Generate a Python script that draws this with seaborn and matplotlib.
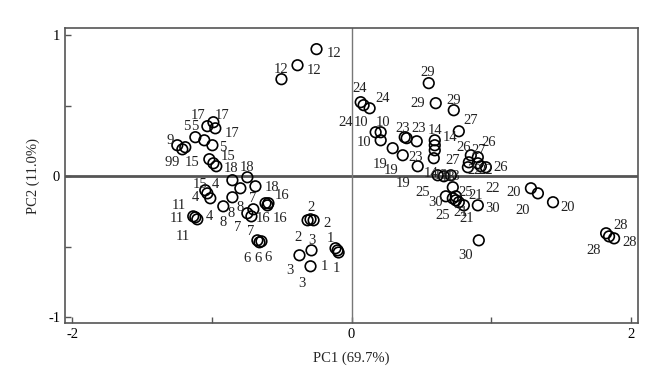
import numpy as np
import pandas as pd
import matplotlib
matplotlib.use("Agg")
import matplotlib.pyplot as plt
import seaborn as sns

# sample ids (three replicates each)
samples = list(range(1, 31))

# PC scores, three replicates per sample
pc1 = [
    [-0.115, -0.100, -0.093], [-0.315, -0.294, -0.272], [-0.373, -0.287, -0.294],
    [-1.047, -1.032, -1.011], [-1.118, -1.054, -0.996], [-0.674, -0.659, -0.645],
    [-0.746, -0.717, -0.703], [-0.918, -0.853, -0.796], [-1.247, -1.211, -1.190],
    [0.172, 0.208, 0.208], [-1.133, -1.104, -1.118], [-0.251, -0.387, -0.502],
    [0.616, 0.660, 0.710], [0.595, 0.595, 0.595], [-1.018, -0.968, -0.989],
    [-0.616, -0.602, -0.595], [-1.032, -0.975, -0.989], [-0.853, -0.746, -0.688],
    [0.294, 0.366, 0.473], [1.283, 1.333, 1.441], [0.746, 0.767, 0.803],
    [0.903, 0.925, 0.961], [0.380, 0.394, 0.466], [0.065, 0.086, 0.129],
    [0.724, 0.724, 0.746], [0.853, 0.839, 0.903], [0.767, 0.588, 0.832],
    [1.821, 1.842, 1.878], [0.552, 0.602, 0.731], [0.910, 0.903, 0.674],
]
pc2 = [
    [-0.510, -0.525, -0.540], [-0.312, -0.305, -0.312], [-0.560, -0.525, -0.638],
    [-0.099, -0.121, -0.156], [0.277, 0.255, 0.220], [-0.454, -0.468, -0.461],
    [-0.262, -0.284, -0.234], [-0.213, -0.149, -0.085], [0.220, 0.191, 0.206],
    [0.312, 0.312, 0.255], [-0.284, -0.305, -0.291], [0.901, 0.787, 0.688],
    [0.007, 0.000, 0.007], [0.255, 0.220, 0.184], [0.121, 0.071, 0.092],
    [-0.191, -0.206, -0.191], [0.355, 0.340, 0.383], [-0.028, -0.007, -0.071],
    [0.199, 0.149, 0.071], [-0.085, -0.121, -0.184], [-0.170, -0.184, -0.206],
    [0.092, 0.071, 0.064], [0.277, 0.270, 0.248], [0.525, 0.504, 0.482],
    [-0.078, -0.156, -0.142], [0.149, 0.099, 0.135], [0.319, 0.128, 0.064],
    [-0.404, -0.426, -0.440], [0.660, 0.518, 0.468], [-0.454, -0.206, -0.142],
]

# where each replicate's number label sits
lab_x = [
    [-0.151, -0.194, -0.108], [-0.294, -0.179, -0.387], [-0.287, -0.444, -0.358],
    [-0.975, -1.118, -1.018], [-1.183, -1.125, -0.925], [-0.746, -0.667, -0.595],
    [-0.710, -0.817, -0.724], [-0.860, -0.918, -0.796], [-1.297, -1.312, -1.262],
    [0.065, 0.222, 0.086], [-1.233, -1.247, -1.204], [-0.129, -0.502, -0.272],
    [0.638, 0.688, 0.724], [0.595, 0.703, 0.566], [-1.140, -0.882, -1.082],
    [-0.495, -0.631, -0.509], [-1.097, -0.925, -0.853], [-0.860, -0.746, -0.566],
    [0.201, 0.280, 0.366], [1.161, 1.226, 1.548], [0.889, 0.781, 0.824],
    [1.011, 0.961, 0.882], [0.366, 0.480, 0.459], [0.057, 0.222, -0.043],
    [0.509, 0.652, 0.817], [0.803, 0.982, 1.068], [0.853, 0.724, 0.910],
    [1.928, 1.986, 1.735], [0.545, 0.473, 0.731], [0.602, 1.011, 0.817],
]
lab_y = [
    [-0.440, -0.638, -0.652], [-0.220, -0.333, -0.433], [-0.454, -0.667, -0.759],
    [-0.057, -0.149, -0.284], [0.355, 0.355, 0.206], [-0.582, -0.582, -0.574],
    [-0.156, -0.362, -0.390], [-0.262, -0.326, -0.220], [0.255, 0.099, 0.099],
    [0.383, 0.383, 0.241], [-0.206, -0.298, -0.426], [0.872, 0.759, 0.752],
    [0.007, -0.007, 0.000], [0.326, 0.277, 0.021], [0.099, 0.142, -0.057],
    [-0.135, -0.298, -0.298], [0.433, 0.433, 0.305], [0.057, 0.064, -0.078],
    [0.085, 0.043, -0.050], [-0.113, -0.241, -0.220], [-0.135, -0.255, -0.298],
    [-0.085, 0.043, 0.043], [0.340, 0.340, 0.135], [0.624, 0.553, 0.383],
    [-0.113, -0.277, -0.113], [0.206, 0.241, 0.064], [0.397, 0.113, 0.184],
    [-0.348, -0.468, -0.525], [0.738, 0.518, 0.539], [-0.184, -0.227, -0.560],
]

df = pd.DataFrame({
    "sample": np.repeat(samples, 3),
    "PC1": np.ravel(pc1),
    "PC2": np.ravel(pc2),
    "lx": np.ravel(lab_x),
    "ly": np.ravel(lab_y),
})

sns.set_style("ticks")
plt.rcParams["font.family"] = ["Liberation Serif", "DejaVu Serif"]

fig = plt.figure(figsize=(6.71, 3.70), dpi=100)
ax = fig.add_axes([0.097, 0.127, 0.854, 0.797])

# zero lines
ax.axhline(0, color="#555555", lw=2, zorder=1)
ax.axvline(0, color="#777777", lw=1, zorder=1)

sns.scatterplot(
    data=df, x="PC1", y="PC2", ax=ax,
    marker="o", s=58, facecolor="none", edgecolor="black", linewidth=1.2,
    zorder=3, legend=False
)

for s, lx, ly in zip(df["sample"], df["lx"], df["ly"]):
    ax.text(lx, ly, str(int(s)), fontsize=10.5,
            ha="center", va="center", color="#222222", zorder=4)

ax.set_xlim(-2.05, 2.05)
ax.set_ylim(-1.04, 1.05)
ax.set_xticks([-2, -1, 0, 1, 2])
ax.set_xticklabels(["-2", "", "0", "", "2"])
ax.set_yticks([-1, -0.5, 0, 0.5, 1])
ax.set_yticklabels(["-1", "", "0", "", "1"])
ax.tick_params(direction="in", length=4, width=1, colors="#555555",
               labelcolor="black", labelsize=10.5)
for sp in ax.spines.values():
    sp.set_color("#555555")
    sp.set_linewidth(1.2)

ax.set_xlabel("PC1 (69.7%)", fontsize=10.5, labelpad=8)
ax.set_ylabel("PC2 (11.0%)", fontsize=10.5, labelpad=6)

fig.savefig("out.png", dpi=100)
